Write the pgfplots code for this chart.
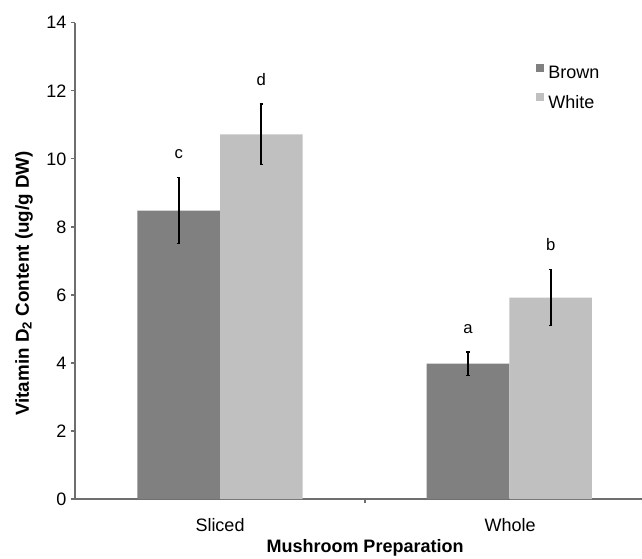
\documentclass[border=0pt]{standalone}
\usepackage{fontspec}
\setmainfont{Liberation Sans}
\usepackage{pgfplots}
\pgfplotsset{compat=1.18}
\usepackage{pgfplotstable}

\definecolor{brownbar}{RGB}{128,128,128}
\definecolor{whitebar}{RGB}{192,192,192}
\definecolor{axisgray}{RGB}{110,110,110}

\pgfplotstableread{
x y err
-0.1425 8.48 0.98
0.855 3.98 0.34
}\browndata
\pgfplotstableread{
x y err
0.1425 10.72 0.89
1.14 5.92 0.82
}\whitedata
\pgfplotstableread{
x y label
-0.1425 10.0 c
0.1425 12.15 d
0.855 4.87 a
1.14 7.3 b
}\letters

\begin{document}
\begin{tikzpicture}[font=\fontsize{13.5}{16}\selectfont]
\begin{axis}[
  at={(0pt,0pt)}, anchor=south west,
  scale only axis, width=425.25pt, height=357.2pt,
  xmin=-0.5, xmax=1.455, ymin=0, ymax=14,
  axis x line=bottom, axis y line=left,
  axis line style={axisgray, line width=1.3pt, -},
  ytick={0,2,...,14},
  xtick={0,1}, xticklabels={Sliced,Whole},
  minor xtick={0.5},
  tick align=outside,
  major tick length=3pt, minor tick length=3pt,
  major x tick style={draw=none},
  minor x tick style={axisgray, line width=1pt},
  y tick style={axisgray, line width=1pt},
  /pgf/number format/assume math mode=true,
  tick label style={font=\fontsize{13.5}{16}\selectfont, black},
  xticklabel style={yshift=-8pt},
  ylabel={\fontsize{14.1}{17}\selectfont\bfseries Vitamin D\textsubscript{2} Content (ug/g DW)},
  ylabel style={at={(axis description cs:-0.09,0.4525)}, anchor=center},
  xlabel={\bfseries Mushroom Preparation},
  xlabel style={at={(axis description cs:0.5115,-0.103)}, anchor=center},
  legend style={at={(axis description cs:0.812,0.915)}, anchor=north west,
    draw=none, fill=none, font=\fontsize{13.5}{16}\selectfont,
    row sep=7.25pt, inner sep=0pt},
  legend cell align=left,
  legend image code/.code={\fill[#1] (0pt,1.25pt) rectangle (6pt,7.25pt); \path (7.5pt,0pt) (0pt,-1pt);},
  clip=false,
]
\addplot[ybar, bar width=0.285, bar shift=0pt, draw=none, fill=brownbar,
  error bars/.cd, y dir=both, y explicit,
  error bar style={black, line width=1.4pt},
  error mark options={black, line width=0.9pt, mark size=1.3pt, rotate=90}]
  table[x=x, y=y, y error=err] {\browndata};
\addlegendentry{Brown}
\addplot[ybar, bar width=0.285, bar shift=0pt, draw=none, fill=whitebar,
  error bars/.cd, y dir=both, y explicit,
  error bar style={black, line width=1.4pt},
  error mark options={black, line width=0.9pt, mark size=1.3pt, rotate=90}]
  table[x=x, y=y, y error=err] {\whitedata};
\addlegendentry{White}
\addplot[only marks, mark=none, forget plot,
  nodes near coords, point meta=explicit symbolic,
  every node near coord/.append style={anchor=base, font=\fontsize{12.5}{15}\selectfont, inner sep=0pt}]
  table[x=x, y=y, meta=label] {\letters};
\end{axis}
\pgfresetboundingbox
\path (-56.25pt,-44.25pt) rectangle (425.25pt,374.25pt);
\end{tikzpicture}
\end{document}
